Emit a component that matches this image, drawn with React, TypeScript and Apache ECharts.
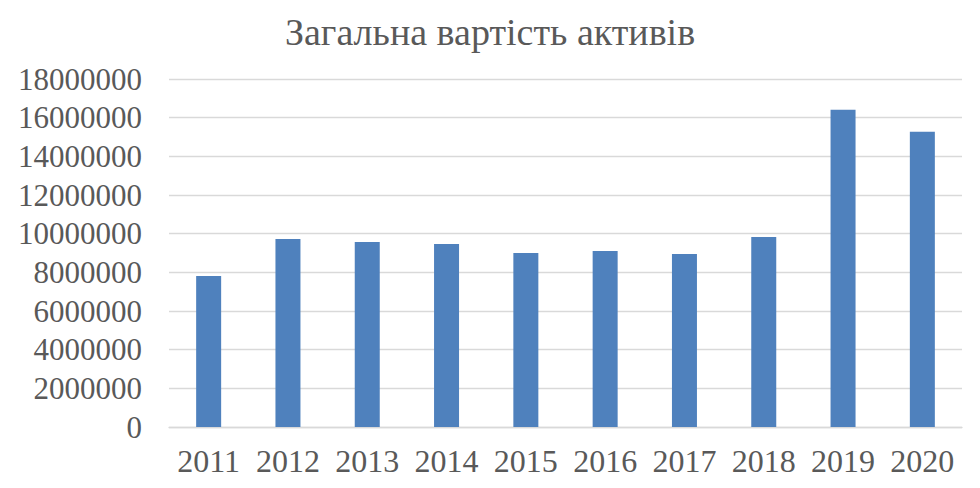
import React, { useEffect, useRef } from "react";
import * as echarts from "echarts";

const title = "Загальна вартість активів";
const years = ["2011", "2012", "2013", "2014", "2015", "2016", "2017", "2018", "2019", "2020"];
const totalAssets = [7810000, 9730000, 9570000, 9470000, 9000000, 9100000, 8950000, 9830000, 16410000, 15270000];

export default function App() {
  const ref = useRef<HTMLDivElement>(null);
  useEffect(() => {
    if (!ref.current) return;
    const chart = echarts.init(ref.current, undefined, { renderer: "svg" });
    const font = "'Liberation Serif', serif";
    chart.setOption({
      animation: false,
      backgroundColor: "#ffffff",
      title: {
        text: title,
        left: "center",
        top: 8,
        textStyle: { fontFamily: font, fontSize: 38, fontWeight: "normal", color: "#595959" },
      },
      grid: { left: 169, right: 18, top: 79, bottom: 61, containLabel: false },
      xAxis: {
        type: "category",
        data: years,
        axisLine: { lineStyle: { color: "#d9d9d9", width: 1.3 } },
        axisTick: { show: false },
        axisLabel: { fontFamily: font, fontSize: 32, color: "#595959", margin: 18, interval: 0, hideOverlap: false },
      },
      yAxis: {
        type: "value",
        min: 0,
        max: 18000000,
        interval: 2000000,
        axisLine: { show: false },
        axisTick: { show: false },
        splitLine: { lineStyle: { color: "#d9d9d9", width: 1.3 } },
        axisLabel: {
          fontFamily: font,
          fontSize: 31,
          color: "#595959",
          margin: 27,
          formatter: (v: number) => String(Math.round(v)),
        },
      },
      series: [
        {
          type: "bar",
          data: totalAssets,
          barWidth: 25,
          itemStyle: { color: "#4f81bd" },
        },
      ],
    });
    return () => chart.dispose();
  }, []);
  return <div ref={ref} style={{ position: "fixed", left: 0, top: 0, width: 980, height: 488 }} />;
}
